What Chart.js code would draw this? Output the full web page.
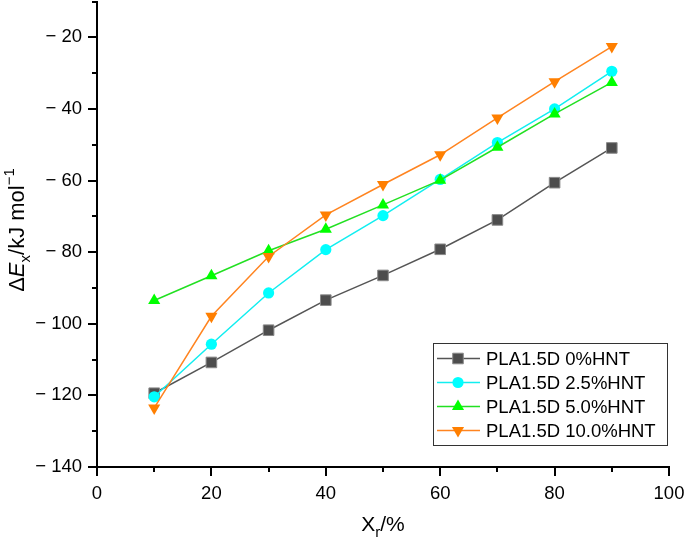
<!DOCTYPE html>
<html>
<head>
<meta charset="utf-8">
<script src="https://cdn.jsdelivr.net/npm/chart.js@4"></script>
<style>
  html, body { margin: 0; padding: 0; background: #fff; }
  #wrap { width: 685px; height: 544px; overflow: hidden; }
  #chart { display: block; margin-top: -7px; }
</style>
</head>
<body>
<div id="wrap"><canvas id="chart" width="685" height="551"></canvas></div>
<script>
const xValues = [10, 20, 30, 40, 50, 60, 70, 80, 90];
const pla0 = [-119.4, -110.8, -101.8, -93.4, -86.5, -79.2, -71.0, -60.6, -50.9];
const pla25 = [-120.4, -105.7, -91.4, -79.3, -69.8, -59.7, -49.4, -40.0, -29.5];
const pla50 = [-93.5, -86.6, -79.6, -73.6, -66.8, -59.9, -50.7, -41.4, -32.6];
const pla100 = [-123.5, -97.9, -81.2, -69.6, -61.1, -52.8, -42.5, -32.4, -22.6];
const seriesNames = ['PLA1.5D 0%HNT', 'PLA1.5D 2.5%HNT', 'PLA1.5D 5.0%HNT', 'PLA1.5D 10.0%HNT'];
const xTicks = [0, 10, 20, 30, 40, 50, 60, 70, 80, 90, 100];
const yTicks = [-140, -130, -120, -110, -100, -90, -80, -70, -60, -50, -40, -30, -20, -10];

const FONT = '"Liberation Sans", Arial, sans-serif';
const SHIFT = 7; // canvas is pulled up by this many px

function pts(ys) {
  return xValues.map((x, i) => ({ x: x, y: ys[i] }));
}

const datasets = [
  { label: seriesNames[0], data: pts(pla0), borderColor: '#555555', backgroundColor: '#4d4d4d',
    pointBorderColor: '#8a8a8a', pointBorderWidth: 1, pointStyle: 'rect', pointRadius: 7.5, order: 3 },
  { label: seriesNames[1], data: pts(pla25), borderColor: '#11eef0', backgroundColor: '#00ffff',
    pointBorderColor: '#00ffff', pointBorderWidth: 0, pointStyle: 'circle', pointRadius: 5.6, order: 2 },
  { label: seriesNames[2], data: pts(pla50), borderColor: '#22e022', backgroundColor: '#00ff00',
    pointBorderColor: '#00ff00', pointBorderWidth: 0, pointStyle: 'triangle', pointRadius: 7, order: 1 },
  { label: seriesNames[3], data: pts(pla100), borderColor: '#ff8420', backgroundColor: '#ff7f00',
    pointBorderColor: '#ff7f00', pointBorderWidth: 0, pointStyle: 'triangle', pointRotation: 180, pointRadius: 7, order: 0 }
];
datasets.forEach(d => {
  d.borderWidth = 1.5;
  d.pointBackgroundColor = d.backgroundColor;
  d.showLine = true;
  d.clip = false;
});

function minus(v) {
  return v < 0 ? '\u2212 ' + Math.abs(v) : String(v);
}

function drawMarker(ctx, d, x, y) {
  ctx.save();
  ctx.fillStyle = d.pointBackgroundColor;
  ctx.strokeStyle = d.pointBorderColor;
  ctx.lineWidth = d.pointBorderWidth || 0.001;
  Chart.helpers.drawPoint(ctx, {
    pointStyle: d.pointStyle,
    rotation: d.pointRotation || 0,
    radius: d.pointRadius,
    borderWidth: d.pointBorderWidth
  }, x, y);
  ctx.restore();
}

// tick marks (major labelled, minor unlabelled) + axis titles + boxed legend
const decorations = {
  id: 'decorations',
  afterDraw(chart) {
    const ctx = chart.ctx;
    const xs = chart.scales.x, ys = chart.scales.y;
    const area = chart.chartArea;
    ctx.save();
    ctx.strokeStyle = '#000';
    ctx.lineWidth = 2;
    yTicks.forEach(v => {
      const py = Math.round(ys.getPixelForValue(v));
      const len = v % 20 === 0 ? 9 : 5;
      ctx.beginPath();
      ctx.moveTo(area.left - len, py);
      ctx.lineTo(area.left, py);
      ctx.stroke();
    });
    xTicks.forEach(v => {
      const px = Math.round(xs.getPixelForValue(v));
      const len = v % 20 === 0 ? 9 : 5;
      ctx.beginPath();
      ctx.moveTo(px, area.bottom);
      ctx.lineTo(px, area.bottom + len);
      ctx.stroke();
    });

    // x title: X_r/%
    ctx.fillStyle = '#000';
    ctx.textBaseline = 'alphabetic';
    const big = '21px ' + FONT, small = '15px ' + FONT;
    ctx.font = big;
    const wX = ctx.measureText('X').width, wP = ctx.measureText('/%').width;
    ctx.font = small;
    const wr = ctx.measureText('r').width;
    let x0 = (area.left + area.right) / 2 - (wX + wr + wP) / 2;
    const by = 531 + SHIFT;
    ctx.font = big; ctx.fillText('X', x0, by);
    ctx.font = small; ctx.fillText('r', x0 + wX, by + 6);
    ctx.font = big; ctx.fillText('/%', x0 + wX + wr, by);

    // y title: ΔE_x/kJ mol^-1, rotated
    const runs = [
      { t: '\u0394', f: '22px ' + FONT, dy: 0 },
      { t: 'E', f: 'italic 22px ' + FONT, dy: 0 },
      { t: 'x', f: '15px ' + FONT, dy: 6 },
      { t: '/kJ mol', f: '22px ' + FONT, dy: 0 },
      { t: '\u22121', f: '15px ' + FONT, dy: -10 }
    ];
    let total = 0;
    runs.forEach(r => { ctx.font = r.f; r.w = ctx.measureText(r.t).width; total += r.w; });
    ctx.translate(24, 230 + SHIFT);
    ctx.rotate(-Math.PI / 2);
    let cx = -total / 2;
    runs.forEach(r => { ctx.font = r.f; ctx.fillText(r.t, cx, r.dy); cx += r.w; });
    ctx.setTransform(1, 0, 0, 1, 0, 0);

    // legend box
    const lx = 433.5, ly = 343.5 + SHIFT, lw = 234, lh = 102;
    ctx.fillStyle = '#fff';
    ctx.fillRect(lx, ly, lw, lh);
    ctx.strokeStyle = '#333';
    ctx.lineWidth = 1;
    ctx.strokeRect(lx, ly, lw, lh);
    const rows = [358.5, 382.5, 406.5, 430.5];
    chart.data.datasets.forEach((d, i) => {
      const ry = rows[i] + SHIFT;
      ctx.strokeStyle = d.borderColor;
      ctx.lineWidth = 1.5;
      ctx.beginPath();
      ctx.moveTo(437, ry);
      ctx.lineTo(480, ry);
      ctx.stroke();
      drawMarker(ctx, d, 458, ry);
      ctx.fillStyle = '#000';
      ctx.font = '18.5px ' + FONT;
      ctx.textBaseline = 'middle';
      ctx.fillText(d.label, 486, ry + 1);
    });
    ctx.restore();
  }
};

new Chart(document.getElementById('chart'), {
  type: 'scatter',
  data: { datasets: datasets },
  options: {
    responsive: false,
    animation: false,
    layout: { padding: { top: 0, right: 16, left: 0, bottom: 0 } },
    plugins: { legend: { display: false }, tooltip: { enabled: false } },
    scales: {
      x: {
        type: 'linear', min: 0, max: 100,
        afterFit: s => { s.height = 77; s.paddingLeft = 0; s.paddingRight = 0; },
        border: { color: '#000', width: 2 },
        grid: { display: true, drawOnChartArea: false, drawTicks: false, color: 'rgba(0,0,0,0)' },
        ticks: {
          stepSize: 10, padding: 16, color: '#000', maxRotation: 0, autoSkip: false,
          font: { family: FONT, size: 18.5 },
          callback: v => (v % 20 === 0 ? String(v) : '')
        }
      },
      y: {
        type: 'linear', min: -140, max: -10,
        afterFit: s => { s.width = 97; s.paddingTop = 0; s.paddingBottom = 0; },
        border: { color: '#000', width: 2 },
        grid: { display: true, drawOnChartArea: false, drawTicks: false, color: 'rgba(0,0,0,0)' },
        ticks: {
          stepSize: 10, padding: 15, color: '#000', autoSkip: false,
          font: { family: FONT, size: 18.5 },
          callback: v => (v % 20 === 0 ? minus(v) : '')
        }
      }
    }
  },
  plugins: [decorations]
});
</script>
</body>
</html>
